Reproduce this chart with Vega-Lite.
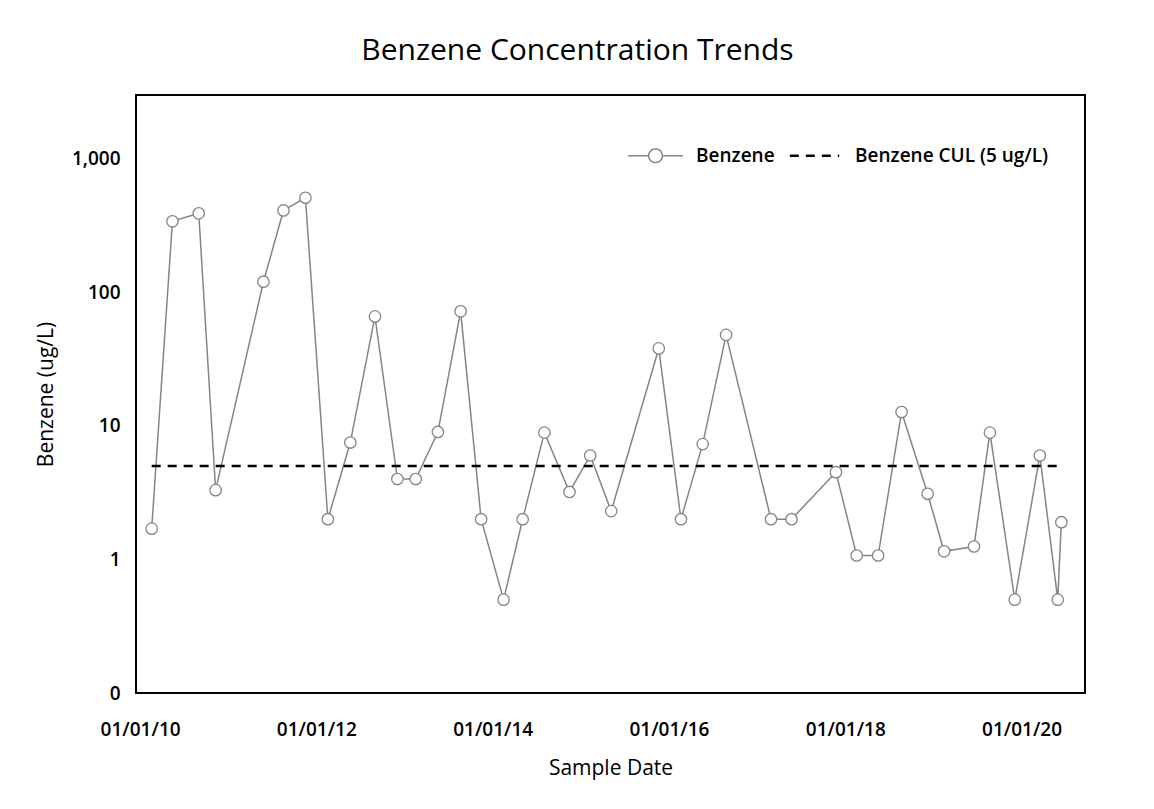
{
  "$schema": "https://vega.github.io/schema/vega-lite/v6.json",
  "autosize": "none",
  "width": 949,
  "height": 598,
  "padding": {"left": 136, "top": 95, "right": 69, "bottom": 116},
  "background": "white",
  "title": {
    "text": "Benzene Concentration Trends",
    "font": "Open Sans",
    "fontSize": 30,
    "fontWeight": 500,
    "color": "#000000",
    "anchor": "middle",
    "dx": -33,
    "offset": 29
  },
  "data": {
    "values": [
      {"date": "2010-02-18", "benzene": 1.7, "cul": 5},
      {"date": "2010-05-15", "benzene": 340, "cul": 5},
      {"date": "2010-09-01", "benzene": 390, "cul": 5},
      {"date": "2010-11-10", "benzene": 3.3, "cul": 5},
      {"date": "2011-05-27", "benzene": 120, "cul": 5},
      {"date": "2011-08-18", "benzene": 410, "cul": 5},
      {"date": "2011-11-17", "benzene": 510, "cul": 5},
      {"date": "2012-02-18", "benzene": 2.0, "cul": 5},
      {"date": "2012-05-21", "benzene": 7.5, "cul": 5},
      {"date": "2012-08-31", "benzene": 66, "cul": 5},
      {"date": "2012-12-02", "benzene": 4.0, "cul": 5},
      {"date": "2013-02-16", "benzene": 4.0, "cul": 5},
      {"date": "2013-05-19", "benzene": 9.0, "cul": 5},
      {"date": "2013-08-21", "benzene": 72, "cul": 5},
      {"date": "2013-11-14", "benzene": 2.0, "cul": 5},
      {"date": "2014-02-15", "benzene": 0.5, "cul": 5},
      {"date": "2014-05-05", "benzene": 2.0, "cul": 5},
      {"date": "2014-08-03", "benzene": 8.9, "cul": 5},
      {"date": "2014-11-15", "benzene": 3.2, "cul": 5},
      {"date": "2015-02-09", "benzene": 6.0, "cul": 5},
      {"date": "2015-05-07", "benzene": 2.3, "cul": 5},
      {"date": "2015-11-20", "benzene": 38, "cul": 5},
      {"date": "2016-02-20", "benzene": 2.0, "cul": 5},
      {"date": "2016-05-20", "benzene": 7.3, "cul": 5},
      {"date": "2016-08-25", "benzene": 48, "cul": 5},
      {"date": "2017-02-27", "benzene": 2.0, "cul": 5},
      {"date": "2017-05-23", "benzene": 2.0, "cul": 5},
      {"date": "2017-11-23", "benzene": 4.5, "cul": 5},
      {"date": "2018-02-17", "benzene": 1.07, "cul": 5},
      {"date": "2018-05-17", "benzene": 1.07, "cul": 5},
      {"date": "2018-08-22", "benzene": 12.7, "cul": 5},
      {"date": "2018-12-08", "benzene": 3.1, "cul": 5},
      {"date": "2019-02-14", "benzene": 1.15, "cul": 5},
      {"date": "2019-06-18", "benzene": 1.25, "cul": 5},
      {"date": "2019-08-23", "benzene": 8.9, "cul": 5},
      {"date": "2019-12-04", "benzene": 0.5, "cul": 5},
      {"date": "2020-03-17", "benzene": 6.0, "cul": 5},
      {"date": "2020-05-30", "benzene": 0.5, "cul": 5},
      {"date": "2020-06-14", "benzene": 1.9, "cul": 5}
    ],
    "format": {"parse": {"date": "date:'%Y-%m-%d'"}}
  },
  "encoding": {
    "x": {
      "field": "date",
      "type": "temporal",
      "title": "Sample Date",
      "scale": {
        "domain": [
          {"year": 2009, "month": 12, "date": 15},
          {"year": 2020, "month": 9, "date": 20}
        ]
      },
      "axis": {
        "values": [
          {"year": 2010, "month": 1, "date": 1},
          {"year": 2012, "month": 1, "date": 1},
          {"year": 2014, "month": 1, "date": 1},
          {"year": 2016, "month": 1, "date": 1},
          {"year": 2018, "month": 1, "date": 1},
          {"year": 2020, "month": 1, "date": 1}
        ],
        "format": "%m/%d/%y",
        "labelPadding": 27,
        "titlePadding": 18
      }
    }
  },
  "layer": [
    {
      "mark": {"type": "line", "strokeWidth": 1.5},
      "encoding": {
        "y": {
          "field": "benzene",
          "type": "quantitative",
          "title": "Benzene (ug/L)",
          "scale": {"type": "log", "domain": [0.1, 3000], "nice": false},
          "axis": {
            "values": [0.1, 1, 10, 100, 1000],
            "labelExpr": "datum.value < 0.5 ? '0' : format(datum.value, ',')",
            "labelPadding": 16,
            "titlePadding": 15
          }
        },
        "color": {
          "datum": "Benzene",
          "type": "nominal",
          "scale": {
            "domain": ["Benzene", "Benzene CUL (5 ug/L)"],
            "range": ["#858585", "#000000"]
          },
          "legend": {
            "title": null,
            "orient": "none",
            "direction": "horizontal",
            "legendX": 495,
            "legendY": 51,
            "symbolSize": 3000,
            "symbolOffset": 15,
            "columnPadding": 9,
            "labelOffset": 31,
            "labelLimit": 400,
            "encode": {
              "symbols": {
                "update": {
                  "shape": {"signal": "datum.label === 'Benzene' ? 'M-1,0H-0.25A0.25,0.25 0 1,0 0.25,0A0.25,0.25 0 1,0 -0.25,0M0.25,0H1' : 'M-0.9,0H0.9'"},
                  "strokeDash": {"signal": "datum.label === 'Benzene' ? [1,0] : [9,7]"},
                  "strokeWidth": {"signal": "datum.label === 'Benzene' ? 1.5 : 2.5"},
                  "fill": {"signal": "datum.label === 'Benzene' ? 'white' : 'transparent'"}
                }
              }
            }
          }
        }
      }
    },
    {
      "mark": {"type": "line", "strokeWidth": 2.5, "strokeDash": [9, 7]},
      "encoding": {
        "y": {"field": "cul", "type": "quantitative"},
        "color": {"datum": "Benzene CUL (5 ug/L)", "type": "nominal"}
      }
    },
    {
      "mark": {"type": "point", "shape": "circle", "filled": true, "fill": "white", "stroke": "#858585", "strokeWidth": 1.3, "size": 130, "opacity": 1},
      "encoding": {
        "y": {"field": "benzene", "type": "quantitative"}
      }
    }
  ],
  "config": {
    "view": {"stroke": "#000000", "strokeWidth": 2},
    "axis": {
      "domain": false,
      "ticks": false,
      "grid": false,
      "labelFont": "Open Sans",
      "labelFontSize": 19,
      "labelFontWeight": 600,
      "labelColor": "#000000",
      "titleFont": "Open Sans",
      "titleFontSize": 21,
      "titleFontWeight": 500,
      "titleColor": "#000000"
    },
    "legend": {
      "labelFont": "Open Sans",
      "labelFontSize": 19,
      "labelFontWeight": 600,
      "labelColor": "#000000"
    }
  }
}
